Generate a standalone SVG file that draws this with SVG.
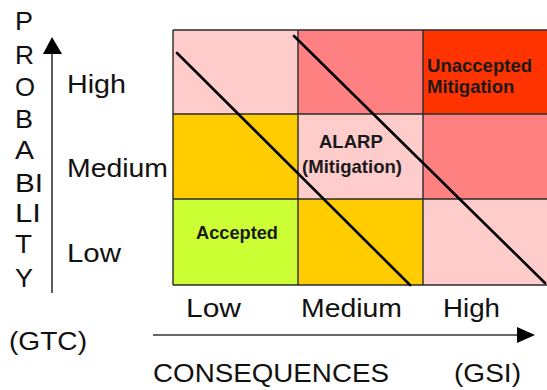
<svg xmlns="http://www.w3.org/2000/svg" width="547" height="390" viewBox="0 0 547 390">
  <style>
    .lbl { font-family: "Liberation Sans", Arial, sans-serif; font-size: 25px; fill: #111; }
    .cell-t { font-family: "Liberation Sans", Arial, sans-serif; font-size: 18.5px; font-weight: bold; fill: #1a1a1a; }
    .grid { stroke: #2a2a2a; stroke-width: 1.4; fill: none; }
    .diag { stroke: #000; stroke-width: 2.6; stroke-linecap: round; }
    .axis { stroke: #333; stroke-width: 1.6; fill: none; }
    .head { fill: #000; }
  </style>
  <rect width="547" height="390" fill="#fff"/>

  <!-- risk matrix cells: rows High / Medium / Low, columns Low / Medium / High -->
  <g id="cell-high-low"><rect x="173" y="30" width="125" height="84" fill="#FFCCCC"/></g>
  <g id="cell-high-medium"><rect x="298" y="30" width="125" height="84" fill="#FF8080"/></g>
  <g id="cell-high-high">
    <rect x="423" y="30" width="124" height="84" fill="#FF3300"/>
    <text class="cell-t" x="427" y="72" textLength="105" lengthAdjust="spacingAndGlyphs">Unaccepted</text>
    <text class="cell-t" x="427" y="93">Mitigation</text>
  </g>
  <g id="cell-medium-low"><rect x="173" y="114" width="125" height="85" fill="#FFCC00"/></g>
  <g id="cell-medium-medium">
    <rect x="298" y="114" width="125" height="85" fill="#FFCCCC"/>
    <text class="cell-t" x="319" y="148">ALARP</text>
    <text class="cell-t" x="302" y="173" textLength="100" lengthAdjust="spacingAndGlyphs">(Mitigation)</text>
  </g>
  <g id="cell-medium-high"><rect x="423" y="114" width="124" height="85" fill="#FF8080"/></g>
  <g id="cell-low-low">
    <rect x="173" y="199" width="125" height="86" fill="#CCFF33"/>
    <text class="cell-t" x="196" y="239" textLength="82" lengthAdjust="spacingAndGlyphs">Accepted</text>
  </g>
  <g id="cell-low-medium"><rect x="298" y="199" width="125" height="86" fill="#FFCC00"/></g>
  <g id="cell-low-high"><rect x="423" y="199" width="124" height="86" fill="#FFCCCC"/></g>

  <!-- grid lines -->
  <g id="grid">
    <path class="grid" d="M173 30H547M173 114H547M173 199H547M173 285H547M173 30V285M298 30V285M423 30V285"/>
  </g>

  <!-- connectors: zone boundaries and axes -->
  <g id="connectors">
    <line class="diag" x1="177" y1="53" x2="410" y2="285"/>
    <line class="diag" x1="294" y1="36" x2="545" y2="283"/>
    <line class="axis" x1="52" y1="293" x2="52" y2="53"/>
    <polygon class="head" points="52,37 43,54 62,54"/>
    <line class="axis" x1="153" y1="335" x2="518" y2="335"/>
    <polygon class="head" points="535,335 517,327 517,343"/>
  </g>

  <!-- vertical axis title -->
  <g id="probability-title" class="lbl">
    <text x="15" y="30" textLength="18" lengthAdjust="spacingAndGlyphs">P</text>
    <text x="15" y="64" textLength="19" lengthAdjust="spacingAndGlyphs">R</text>
    <text x="15" y="96" textLength="20" lengthAdjust="spacingAndGlyphs">O</text>
    <text x="15" y="128" textLength="18" lengthAdjust="spacingAndGlyphs">B</text>
    <text x="15" y="159" textLength="19" lengthAdjust="spacingAndGlyphs">A</text>
    <text x="15" y="192" textLength="28" lengthAdjust="spacingAndGlyphs">BI</text>
    <text x="15" y="222" textLength="26" lengthAdjust="spacingAndGlyphs">LI</text>
    <text x="15" y="253" textLength="17" lengthAdjust="spacingAndGlyphs">T</text>
    <text x="15" y="287" textLength="18" lengthAdjust="spacingAndGlyphs">Y</text>
  </g>

  <!-- probability levels -->
  <g id="probability-levels" class="lbl" style="font-size:26px">
    <text x="67" y="93" textLength="59" lengthAdjust="spacingAndGlyphs">High</text>
    <text x="67" y="177" textLength="101" lengthAdjust="spacingAndGlyphs">Medium</text>
    <text x="67" y="262" textLength="54" lengthAdjust="spacingAndGlyphs">Low</text>
  </g>

  <!-- consequence levels -->
  <g id="consequence-levels" class="lbl" style="font-size:26px">
    <text x="186" y="317" textLength="55" lengthAdjust="spacingAndGlyphs">Low</text>
    <text x="301" y="317" textLength="101" lengthAdjust="spacingAndGlyphs">Medium</text>
    <text x="443" y="317" textLength="57" lengthAdjust="spacingAndGlyphs">High</text>
  </g>

  <!-- axis captions -->
  <g id="captions" class="lbl">
    <text x="9" y="350" textLength="78" lengthAdjust="spacingAndGlyphs">(GTC)</text>
    <text x="153" y="382" style="font-size:26px" textLength="236" lengthAdjust="spacingAndGlyphs">CONSEQUENCES</text>
    <text x="454" y="382" style="font-size:26px" textLength="67" lengthAdjust="spacingAndGlyphs">(GSI)</text>
  </g>
</svg>
